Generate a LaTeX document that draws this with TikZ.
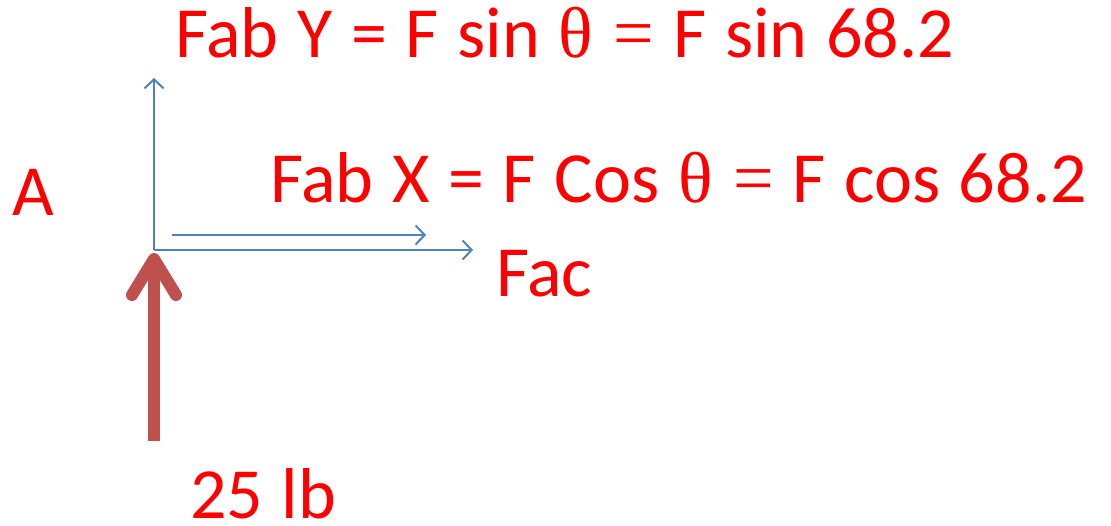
\documentclass[tikz,border=0pt]{standalone}
\usepackage{fontspec}
\setmainfont{Carlito}[WordSpace=1.15]
\newfontfamily\thetafont{Liberation Serif}[WordSpace=1.15]
\usepackage{xcolor}
\usetikzlibrary{arrows.meta, positioning}
\definecolor{forceblue}{RGB}{79, 129, 189}
\definecolor{loadred}{RGB}{192, 80, 77}
\definecolor{labelred}{RGB}{255, 0, 0}
\newcommand{\thq}{{\thetafont θ =}}

\begin{document}
\begin{tikzpicture}[
    x=1pt, y=-1pt,
    lbl/.style={anchor=base west, inner sep=0pt, text=labelred, font=\fontsize{72}{86}\selectfont},
    comp/.style={-{Straight Barb[length=9pt, width=19pt]}, line width=2pt, color=forceblue},
    load/.style={-{Straight Barb[length=36pt, width=44pt, round]}, line width=12pt, color=loadred}
]
    \useasboundingbox (0,0) rectangle (1111,526);
    % joint and arrow ends
    \coordinate (joint) at (154,250);
    \coordinate (ytip) at (154,78);
    \coordinate (actip) at (473,250);
    \coordinate (xstart) at (172,235);
    \coordinate (xtip) at (426,235);
    \coordinate (loadtail) at (154,441);
    \coordinate (loadtip) at (154,253);

    \node[lbl] (fabY) at (175,58) {Fab Y = F sin \thq{} F sin 68.2};
    \node[lbl] (fabX) at (270,203) {Fab X = F Cos \thq{} F cos 68.2};
    \node[lbl] (ptA) at (12,216) {A};
    \node[lbl] (fac) at (496,297) {Fac};
    \node[lbl] (lb) at (190,518) {25 lb};

    \draw[comp] (joint) -- (ytip);
    \draw[comp] (joint) -- (actip);
    \draw[comp] (xstart) -- (xtip);
    \draw[load] (loadtail) -- (loadtip);
\end{tikzpicture}
\end{document}
